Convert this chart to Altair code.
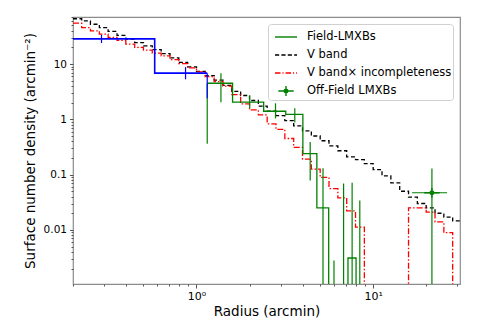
import altair as alt
import pandas as pd

# ---------------- data ----------------
radius_edges = [0.2, 0.224, 0.251, 0.282, 0.316, 0.355, 0.398, 0.447, 0.501, 0.562,
                0.631, 0.708, 0.794, 0.891, 1.0, 1.122, 1.259, 1.413, 1.585, 1.778,
                1.995, 2.239, 2.512, 2.818, 3.162, 3.548, 3.981, 4.467, 5.012, 5.623,
                6.31, 7.079, 7.943, 8.913, 10.0, 11.22, 12.59, 14.13, 15.85, 17.78,
                19.95, 22.39, 25.12, 28.18, 31.62]
vband = [66, 60.3, 52.5, 45.7, 38.9, 33.1, 28.2, 24.5, 21.4, 18.2,
         15.5, 12.9, 10.7, 8.9, 7.4, 6.2, 5.1, 4.1, 3.2, 2.7,
         2.19, 1.74, 1.41, 1.17, 0.95, 0.76, 0.62, 0.50, 0.41, 0.33,
         0.27, 0.21, 0.186, 0.158, 0.123, 0.095, 0.071, 0.050, 0.039, 0.030,
         0.025, 0.020, 0.017, 0.0145]
vband_incomp = [55.0, 45.7, 39.8, 34.7, 30.2, 26.9, 22.9, 20.0, 17.8, 15.8,
                14.1, 12.0, 10.2, 8.5, 7.2, 5.9, 4.8, 4.0, 2.8, 1.9,
                1.48, 1.2, 0.83, 0.66, 0.45, 0.31, 0.19, 0.126, 0.089, 0.056,
                0.038, 0.022, 0.0112, 0, 0, 0, 0, 0, 0.025, 0.025,
                0.021, 0.014, 0.0089, 0]

field_edges = [1.15, 1.6, 2.4, 3.2, 4.0, 4.8, 5.6, 6.4, 7.2, 8.0, 8.8]
field_density = [4.5, 2.04, 1.40, 1.23, 0.24, 0.025, 0, 0, 0.0031, 0]
field_centers = [1.15, 1.375, 2.0, 2.8, 3.6, 4.4, 5.2, 6.0, 6.8, 7.6, 8.4]
field_err_lo = [0.36, 2.04, 1.58, 1.04, 0.88, 0.078, 0, 0, 0, 0, 0]
field_err_hi = [4.5, 6.85, 2.73, 1.95, 1.58, 0.39, 0.13, 0.0028, 0.069, 0.071, 0.034]

inner_edges = [0.1, 0.58, 1.15]
inner_density = [28.5, 6.85]
inner_centers = [0.29, 0.867, 1.15]
inner_err_lo = [24.0, 5.3, 2.4]
inner_err_hi = [33.7, 8.8, 6.85]

off_r = [21.5]
off_density = [0.047]
off_r_lo = [16.6]
off_r_hi = [26.2]
off_err_lo = [0]
off_err_hi = [0.129]

series_names = ["Field-LMXBs", "V band", "V band\u00d7 incompleteness", "Off-Field LMXBs"]
series_strokes = ["#008000", "#000000", "#ff0000", "#008000"]
series_fills = ["transparent", "transparent", "transparent", "#008000"]
# legend glyphs: solid, dashed, dash-dot, errorbar cross with dot
series_glyphs = [
    "M-1,0H1",
    "M-1,0H-0.62M-0.42,0H-0.04M0.16,0H0.54M0.74,0H1",
    "M-1,0H-0.5M-0.32,0H-0.22M-0.04,0H0.46M0.64,0H0.74M0.92,0H1",
    "M-0.7,0H0.7M0,-0.45V0.45M0.17,0A0.17,0.17,0,1,1,-0.17,0A0.17,0.17,0,1,1,0.17,0Z",
]

GREEN = "#008000"
BLUE = "#0000ff"
BLACK = "#000000"
RED = "#ff0000"
FLOOR = 1e-4  # stands in for zero on the log axis (clipped away)


def step_rows(edges, vals, close_end=False):
    rows, k = [], 0
    for i, v in enumerate(vals):
        vv = v if v > 0 else FLOOR
        rows.append(dict(r=edges[i], v=vv, k=k))
        rows.append(dict(r=edges[i + 1], v=vv, k=k + 1))
        k += 2
    if close_end:
        rows.append(dict(r=edges[-1], v=FLOOR, k=k))
    return pd.DataFrame(rows)


black_df = step_rows(radius_edges, vband, True)
red_df = step_rows(radius_edges, vband_incomp, True)
green_df = step_rows(field_edges, field_density, False)
blue_df = step_rows(inner_edges, inner_density, False)

err_rows = []
for r, lo, hi in zip(field_centers, field_err_lo, field_err_hi):
    err_rows.append(dict(r=r, v=lo if lo > 0 else FLOOR, v2=hi, col=GREEN))
for r, lo, hi in zip(inner_centers, inner_err_lo, inner_err_hi):
    err_rows.append(dict(r=r, v=lo if lo > 0 else FLOOR, v2=hi, col=BLUE))
for r, lo, hi in zip(off_r, off_err_lo, off_err_hi):
    err_rows.append(dict(r=r, v=lo if lo > 0 else FLOOR, v2=hi, col=GREEN))
errs = pd.DataFrame(err_rows)

off = pd.DataFrame(dict(r=off_r, v=off_density, r_lo=off_r_lo, r_hi=off_r_hi,
                        series=[series_names[3]]))

# ---------------- scales / axes ----------------
x_ticks = [0.2, 0.3, 0.4, 0.5, 0.6, 0.7, 0.8, 0.9, 1, 2, 3, 4, 5, 6, 7, 8, 9, 10, 20, 30]
y_ticks = [0.002, 0.003, 0.004, 0.005, 0.006, 0.007, 0.008, 0.009, 0.01,
           0.02, 0.03, 0.04, 0.05, 0.06, 0.07, 0.08, 0.09, 0.1,
           0.2, 0.3, 0.4, 0.5, 0.6, 0.7, 0.8, 0.9, 1,
           2, 3, 4, 5, 6, 7, 8, 9, 10, 20, 30, 40, 50, 60, 70]

xscale = alt.Scale(type="log", domain=[0.2, 31])
yscale = alt.Scale(type="log", domain=[0.00105, 71])

FONT = "DejaVu Sans"
xaxis = alt.Axis(
    values=x_ticks,
    labelExpr="datum.value == 1 ? '10\u2070' : (datum.value == 10 ? '10\u00b9' : '')",
    tickSize={"condition": {"test": "datum.value == 1 || datum.value == 10", "value": 4}, "value": 2},
    tickColor="#555555", domain=False, grid=False,
    labelFont=FONT, labelFontSize=11, labelColor="black", labelPadding=2,
    labelFlush=False, labelOverlap=False,
    titleFont=FONT, titleFontSize=13.5, titleFontWeight="normal", titleColor="black",
    titlePadding=3,
)
yaxis = alt.Axis(
    values=y_ticks,
    labelExpr="datum.value == 10 ? '10' : datum.value == 1 ? '1' : datum.value == 0.1 ? '0.1' : datum.value == 0.01 ? '0.01' : ''",
    tickSize={"condition": {"test": "datum.value == 10 || datum.value == 1 || datum.value == 0.1 || datum.value == 0.01", "value": 3.5}, "value": 2},
    tickColor="#555555", domain=False, grid=False,
    labelFont=FONT, labelFontSize=10.5, labelColor="black", labelPadding=3,
    labelFlush=False, labelOverlap=False,
    titleFont=FONT, titleFontSize=13.5, titleFontWeight="normal", titleColor="black",
    titlePadding=6,
)
XT = "Radius (arcmin)"
YT = "Surface number density (arcmin\u207b\u00b2)"


def X(field="r"):
    return alt.X(f"{field}:Q", scale=xscale, axis=xaxis, title=XT)


def Y(field="v"):
    return alt.Y(f"{field}:Q", scale=yscale, axis=yaxis, title=YT)


def step_layer(df, color, dash, width=1.3):
    return alt.Chart(df).mark_line(clip=True, strokeWidth=width, color=color, strokeDash=dash).encode(
        x=X(), y=Y(), order="k:Q"
    )


black_layer = step_layer(black_df, BLACK, [4, 2.5])
red_layer = step_layer(red_df, RED, [6, 2, 1.5, 2])
green_layer = step_layer(green_df, GREEN, [1, 0])
blue_layer = step_layer(blue_df, BLUE, [1, 0], 1.6)

err_layer = alt.Chart(errs).mark_rule(clip=True, strokeWidth=1.2).encode(
    x=X(), y=Y(), y2="v2:Q", color=alt.Color("col:N", scale=None)
)

off_x = alt.Chart(off).mark_rule(clip=True, strokeWidth=1.2, color=GREEN).encode(
    x=X("r_lo"), x2="r_hi:Q", y=Y()
)

legend = alt.Legend(
    title=None, orient="top-right", offset=7,
    symbolSize=484, symbolStrokeWidth=1.4, symbolOffset=5,
    labelFont=FONT, labelFontSize=11.5, labelColor="black",
    labelOffset=9, padding=1, rowPadding=0, labelLimit=300,
    strokeColor="#d0d0d0", fillColor="white", cornerRadius=3,
)

off_pt = alt.Chart(off).mark_point(clip=True, size=484, strokeWidth=1.3, opacity=1).encode(
    x=X(), y=Y(),
    shape=alt.Shape("series:N", scale=alt.Scale(domain=series_names, range=series_glyphs), legend=legend),
    stroke=alt.Stroke("series:N", scale=alt.Scale(domain=series_names, range=series_strokes), legend=legend),
    fill=alt.Fill("series:N", scale=alt.Scale(domain=series_names, range=series_fills), legend=legend),
)

chart = (
    alt.layer(black_layer, red_layer, blue_layer, green_layer, err_layer, off_x, off_pt)
    .properties(
        width=387, height=267,
        autosize=alt.AutoSizeParams(type="none"),
        padding={"left": 65, "top": 9, "right": 17, "bottom": 42},
    )
    .configure_view(stroke="#8c8c8c", strokeWidth=1.2)
)

chart.save("out.html", embed_options={"renderer": "svg", "actions": False})
